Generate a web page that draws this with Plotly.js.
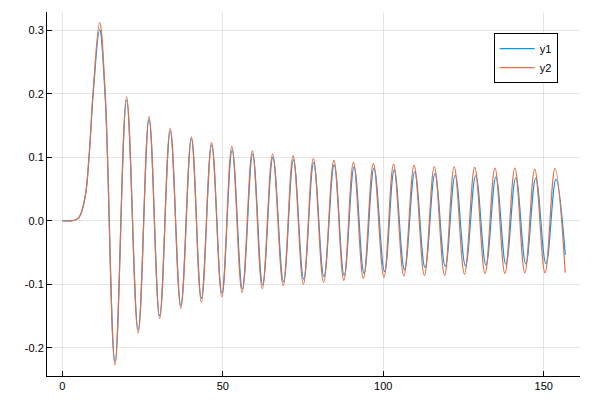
<!DOCTYPE html>
<html>
<head>
<meta charset="utf-8">
<script src="https://cdn.plot.ly/plotly-3.0.1.min.js"></script>
<style>
  body { margin: 0; background: #fff; }
  #plot { width: 600px; height: 400px; }
</style>
</head>
<body>
<div id="plot"></div>
<script>
// peaks, troughs and a few shoulder points
var x1 = [0, 3, 5, 7, 8.3, 9.6, 11.6, 13.3,
  16.4, 20.0, 23.6, 27.0, 30.3, 33.6, 36.9, 40.2, 43.3, 46.5, 49.7,
  52.9, 56.1, 59.3, 62.4, 65.6, 68.9, 72.0, 75.2, 78.3, 81.5, 84.7, 87.8,
  90.9, 94.0, 97.1, 100.4, 103.4, 106.6, 109.8, 113.0, 116.1, 119.3, 122.4,
  125.6, 128.8, 132.0, 135.1, 138.2, 141.3, 144.4, 147.5, 150.7, 153.8, 156.7];
var y1 = [0, 0, 0.004, 0.035, 0.1, 0.2, 0.301, 0.198,
  -0.222, 0.190, -0.172, 0.160, -0.150, 0.141, -0.133, 0.129, -0.122, 0.119, -0.114,
  0.111, -0.107, 0.105, -0.101, 0.100, -0.096, 0.096, -0.092, 0.091, -0.088, 0.088, -0.086,
  0.085, -0.083, 0.083, -0.080, 0.080, -0.077, 0.077, -0.074, 0.074, -0.072, 0.072,
  -0.071, 0.071, -0.070, 0.069, -0.069, 0.068, -0.068, 0.067, -0.068, 0.065, -0.054];

var x2 = [0, 3, 5, 7, 8.3, 9.6, 11.6, 13.3,
  16.4, 20.0, 23.6, 27.0, 30.3, 33.6, 36.9, 40.2, 43.3, 46.5, 49.7,
  52.8, 56.0, 59.2, 62.3, 65.5, 68.8, 71.9, 75.1, 78.2, 81.4, 84.6, 87.7,
  90.7, 93.8, 96.9, 100.2, 103.2, 106.4, 109.6, 112.8, 115.9, 119.1, 122.1,
  125.3, 128.5, 131.7, 134.8, 137.9, 141.0, 144.1, 147.2, 150.4, 153.5, 156.7];
var y2 = [0, 0, 0.004, 0.036, 0.102, 0.205, 0.312, 0.205,
  -0.227, 0.195, -0.177, 0.164, -0.154, 0.146, -0.138, 0.132, -0.128, 0.123, -0.120,
  0.117, -0.113, 0.110, -0.107, 0.105, -0.102, 0.102, -0.100, 0.098, -0.097, 0.095, -0.094,
  0.092, -0.091, 0.090, -0.089, 0.089, -0.087, 0.087, -0.086, 0.085, -0.086, 0.085,
  -0.084, 0.084, -0.083, 0.083, -0.083, 0.083, -0.082, 0.081, -0.082, 0.082, -0.082];

var xTicks = [0, 50, 100, 150];
var yTicks = [-0.2, -0.1, 0.0, 0.1, 0.2, 0.3];
var yTickText = ["-0.2", "-0.1", "0.0", "0.1", "0.2", "0.3"];

var trace1 = {
  x: x1,
  y: y1,
  type: "scatter",
  mode: "lines",
  name: "y1",
  line: { color: "#009AFA", width: 1.2, shape: "spline", smoothing: 1.1 }
};

var trace2 = {
  x: x2,
  y: y2,
  type: "scatter",
  mode: "lines",
  name: "y2",
  line: { color: "#E36F47", width: 1.2, shape: "spline", smoothing: 1.1 }
};

var axisCommon = {
  showline: true,
  linecolor: "#000",
  linewidth: 1,
  ticks: "inside",
  ticklen: 5,
  tickcolor: "#000",
  showgrid: true,
  gridcolor: "rgba(0,0,0,0.1)",
  zeroline: false,
  tickfont: { size: 11, color: "#000" }
};

var layout = {
  width: 600,
  height: 400,
  margin: { l: 47, r: 20, t: 12, b: 24 },
  paper_bgcolor: "#fff",
  plot_bgcolor: "#fff",
  font: { family: "Liberation Sans, Arial, sans-serif", size: 11, color: "#000" },
  showlegend: true,
  legend: {
    x: 0.838, y: 0.942, xanchor: "left", yanchor: "top",
    bordercolor: "#000", borderwidth: 1, bgcolor: "#fff",
    itemwidth: 35,
    font: { size: 11 }
  },
  xaxis: Object.assign({}, axisCommon, {
    range: [-4.8, 161.3],
    tickvals: xTicks
  }),
  yaxis: Object.assign({}, axisCommon, {
    range: [-0.2446, 0.3287],
    tickvals: yTicks,
    ticktext: yTickText
  })
};

Plotly.newPlot("plot", [trace1, trace2], layout, { displayModeBar: false, staticPlot: true });
</script>
</body>
</html>
